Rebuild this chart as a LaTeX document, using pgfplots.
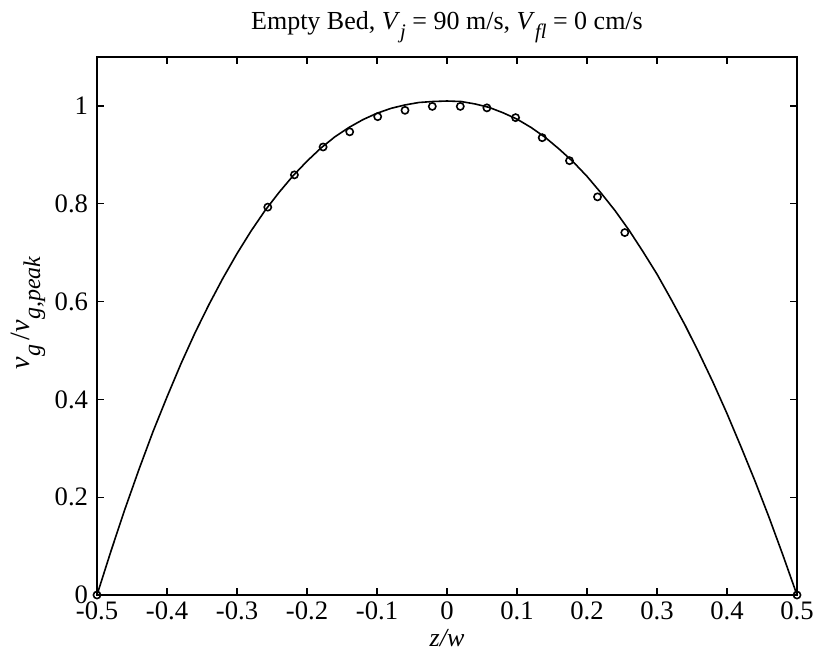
\documentclass[border=0pt]{standalone}
\usepackage{pgfplots}
\pgfplotsset{compat=1.18}
\usepackage{fontspec}
\setmainfont{Liberation Serif}
\newcommand{\sub}[1]{\raisebox{-0.75ex}{\fontsize{15.5}{15.5}\selectfont\textit{#1}}}
\newcommand{\subb}[1]{\raisebox{-0.8ex}{\fontsize{18}{18}\selectfont\textit{#1}}}
\begin{document}
\fontsize{19.5}{22}\selectfont
\begin{tikzpicture}
\useasboundingbox (-72.75pt,-46.5pt) rectangle (537pt,446.25pt);
\begin{axis}[
  at={(0pt,0pt)}, anchor=south west,
  scale only axis,
  width=525pt, height=403.5pt,
  xmin=-0.5, xmax=0.5, ymin=0, ymax=1.1,
  axis line style={line width=1.3pt},
  tick style={line width=1pt, black},
  tick align=inside,
  major tick length=5pt,
  xtick={-0.5,-0.4,-0.3,-0.2,-0.1,0,0.1,0.2,0.3,0.4,0.5},
  xticklabels={-0.5,-0.4,-0.3,-0.2,-0.1,0,0.1,0.2,0.3,0.4,0.5},
  ytick={0,0.2,0.4,0.6,0.8,1},
  yticklabels={0,0.2,0.4,0.6,0.8,1},
  xticklabel style={font=\fontsize{20}{22}\selectfont, yshift=2pt},
  yticklabel style={font=\fontsize{20}{22}\selectfont},
  xlabel={\textit{z/w}},
  ylabel={\textit{v}\subb{g}\,/\textit{v}\subb{g,peak}},
  xlabel style={font=\fontsize{19.5}{22}\selectfont, yshift=6pt},
  ylabel style={font=\fontsize{21}{24}\selectfont, yshift=-6pt, xshift=10pt},
  title={Empty Bed, \textit{V}\sub{j} = 90 m/s, \textit{V}\sub{fl} = 0 cm/s},
  title style={font=\fontsize{19.5}{22}\selectfont, yshift=-2pt},
  clip=false,
]
\addplot[black, line width=1.2pt] coordinates {
(-0.5,0) (-0.48,0.090) (-0.46,0.176) (-0.44,0.257) (-0.42,0.334) (-0.40,0.405)
(-0.38,0.473) (-0.36,0.536) (-0.34,0.594) (-0.32,0.648) (-0.30,0.698)
(-0.28,0.744) (-0.26,0.786) (-0.24,0.823) (-0.22,0.857) (-0.20,0.887)
(-0.18,0.914) (-0.16,0.937) (-0.14,0.956) (-0.12,0.972) (-0.10,0.985)
(-0.08,0.995) (-0.06,1.002) (-0.04,1.007) (-0.02,1.009) (0,1.010)
(0.02,1.009) (0.04,1.004) (0.06,0.997) (0.08,0.986) (0.10,0.973)
(0.12,0.956) (0.14,0.936) (0.16,0.912) (0.18,0.886) (0.20,0.856)
(0.22,0.822) (0.24,0.786) (0.26,0.746) (0.28,0.702) (0.30,0.656)
(0.32,0.605) (0.34,0.552) (0.36,0.495) (0.38,0.435) (0.40,0.371)
(0.42,0.303) (0.44,0.233) (0.46,0.159) (0.48,0.081) (0.5,0)
};
\addplot[only marks, mark=o, mark size=2.7pt, mark options={line width=1.2pt, black}] coordinates {
(-0.5,0) (-0.256,0.793) (-0.218,0.859) (-0.177,0.916) (-0.139,0.947) (-0.099,0.978)
(-0.060,0.991) (-0.021,0.999) (0.019,0.999) (0.057,0.996) (0.098,0.976)
(0.136,0.935) (0.175,0.888) (0.215,0.814) (0.254,0.741) (0.5,0)
};
\end{axis}
\end{tikzpicture}
\end{document}
